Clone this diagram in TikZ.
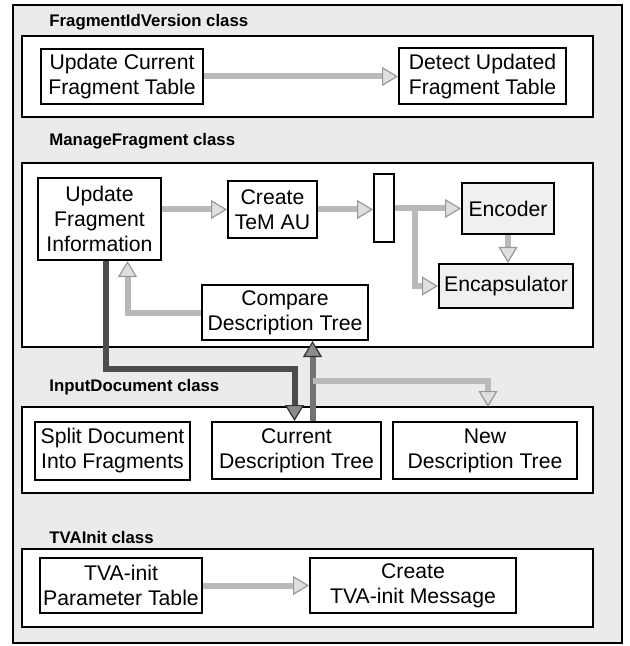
\documentclass[tikz,border=0pt]{standalone}
\usepackage{fontspec}
\setmainfont{Liberation Sans}
\usetikzlibrary{arrows.meta,positioning}

\begin{document}
\begin{tikzpicture}
  [x=0.5pt,y=-0.5pt,
   every node/.style={font=\fontsize{10.6}{12.5}\selectfont,align=center,inner sep=0pt},
   classbox/.style={draw,line width=1.2pt,fill=white},
   title/.style={anchor=west,font=\fontsize{8.4}{10}\selectfont\bfseries},
   box/.style={draw,line width=1pt,fill=white},
   greybox/.style={box,fill=gray!12},
   flow/.style={draw=gray!55,line width=3pt,
     -{Triangle[color=gray!80,fill=gray!25,length=8pt,width=9.5pt,line width=0.6pt]}},
   darkflow/.style={draw=black!70,line width=3pt,
     -{Triangle[color=black!80,fill=black!45,length=8pt,width=9.5pt,line width=0.6pt]}}]
  \useasboundingbox (0,0) rectangle (629,646);
  \draw[line width=1pt,fill=gray!16] (13,5) rectangle (622,643);

  % class frames
  \node[classbox,minimum width=285.5pt,minimum height=40.5pt] (fragver) at (307.5,76.5) {};
  \node[classbox,minimum width=285.5pt,minimum height=92pt] (managefrag) at (307.5,255) {};
  \node[classbox,minimum width=285.5pt,minimum height=43pt] (inputdoc) at (307.5,450) {};
  \node[classbox,minimum width=285.5pt,minimum height=39pt] (tvainit) at (307.5,588) {};

  \node[title] (t1) at (49,22) {FragmentIdVersion class};
  \node[title] (t2) at (49,141) {ManageFragment class};
  \node[title] (t3) at (49,387) {InputDocument class};
  \node[title] (t4) at (49,537) {TVAInit class};

  % FragmentIdVersion
  \node[box,minimum width=81pt,minimum height=27.5pt] (upcur) at (122,76.5) {Update Current\\Fragment Table};
  \node[box,minimum width=83.5pt,minimum height=28pt] (detect) at (482.5,76.5) {Detect Updated\\Fragment Table};

  % ManageFragment
  \node[box,minimum width=61.5pt,minimum height=41pt] (upfrag) at (99.5,219) {Update\\Fragment\\Information};
  \node[box,minimum width=44.5pt,minimum height=28.5pt] (createau) at (272.5,209.5) {Create\\TeM AU};
  \node[box,minimum width=10pt,minimum height=34pt] (bar) at (384,208) {};
  \node[greybox,minimum width=46pt,minimum height=25.5pt] (encoder) at (508,208.5) {Encoder};
  \node[greybox,minimum width=67pt,minimum height=22pt] (encaps) at (506,286) {Encapsulator};
  \node[box,minimum width=83pt,minimum height=27.5pt] (compare) at (285,312.5) {Compare\\Description Tree};
  \coordinate (fork) at (415,208.5);

  % InputDocument
  \node[box,minimum width=77.5pt,minimum height=29pt] (split) at (112.5,451) {Split Document\\Into Fragments};
  \node[box,minimum width=84.5pt,minimum height=28.5pt] (curtree) at (296.5,450.5) {Current\\Description Tree};
  \node[box,minimum width=92pt,minimum height=28.5pt] (newtree) at (485,450.5) {New\\Description Tree};
  \coordinate (join) at (312.5,381);

  % TVAInit
  \node[box,minimum width=81pt,minimum height=27.5pt] (tvapar) at (121,585.5) {TVA-init\\Parameter Table};
  \node[box,minimum width=103pt,minimum height=27.5pt] (tvamsg) at (413,585.5) {Create\\TVA-init Message};

  % flows
  \draw[flow] (upcur) -- (detect);
  \draw[flow] (upfrag.east |- createau.west) -- (createau.west);
  \draw[flow] (createau) -- (createau -| bar.west);
  \draw[flow] (bar.east |- encoder.west) -- (encoder.west);
  \draw[flow] (fork) |- (encaps.west);
  \draw[flow] (encoder.south) -- (encoder.south |- encaps.north);
  \draw[flow] (compare.west) -| ([xshift=14pt]upfrag.south);
  \draw[darkflow] ([xshift=3pt]upfrag.south) -- ++(0,108) -| ([xshift=-1pt]curtree.north);
  \draw[darkflow,draw=black!55] ([xshift=8pt]curtree.north) -- ([xshift=8pt]curtree.north |- compare.south);
  \draw[flow] (join) -| ([xshift=1.5pt,yshift=7pt]newtree.north);
  \draw[flow] (tvapar) -- (tvamsg);
\end{tikzpicture}
\end{document}
